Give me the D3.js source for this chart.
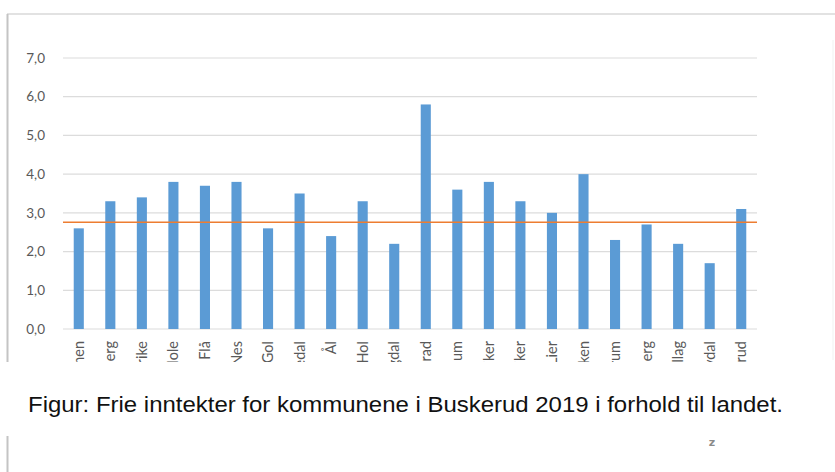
<!DOCTYPE html>
<html>
<head>
<meta charset="utf-8">
<script src="https://cdn.jsdelivr.net/npm/d3@7"></script>
<style>
  body { margin: 0; background: #fff; }
  svg { display: block; }
</style>
</head>
<body>
<script>
// Kommuner i Buskerud (kommunenummer-rekkefølge) + fylket
var kommuner = ["Drammen", "Kongsberg", "Ringerike", "Hole", "Flå", "Nes", "Gol", "Hemsedal",
                "Ål", "Hol", "Sigdal", "Krødsherad", "Modum", "Øvre Eiker", "Nedre Eiker", "Lier",
                "Røyken", "Hurum", "Flesberg", "Rollag", "Nore og Uvdal", "Buskerud"];
var verdier = [2.6, 3.3, 3.4, 3.8, 3.7, 3.8, 2.6, 3.5, 2.4, 3.3, 2.2,
               5.8, 3.6, 3.8, 3.3, 3.0, 4.0, 2.3, 2.7, 2.2, 1.7, 3.1];
var landet = 2.76;
var yTicks = [0, 1, 2, 3, 4, 5, 6, 7];
var caption = "Figur: Frie inntekter for kommunene i Buskerud 2019 i forhold til landet.";

var width = 835;
var height = 472;
var plot = {left: 63, right: 757, top: 58, bottom: 329};

var svg = d3.select("body")
            .append("svg")
            .attr("width", width)
            .attr("height", height);

// frame of the pasted chart
svg.append("line")
   .attr("x1", 7).attr("x2", width).attr("y1", 14).attr("y2", 14)
   .attr("stroke", "#e2e2e2").attr("stroke-width", 2);
svg.append("line")
   .attr("x1", 7.5).attr("x2", 7.5).attr("y1", 14).attr("y2", height)
   .attr("stroke", "#c4c4c4").attr("stroke-width", 2);
svg.append("line")
   .attr("x1", 833).attr("x2", 833).attr("y1", 40).attr("y2", 360)
   .attr("stroke", "#f1f1f1").attr("stroke-width", 1);

var x = d3.scaleBand()
          .domain(kommuner)
          .range([plot.left, plot.right])
          .paddingInner(0.68)
          .paddingOuter(0.34);

var y = d3.scaleLinear()
          .domain([0, 7])
          .range([plot.bottom, plot.top]);

// gridlines
svg.append("g")
   .selectAll("line")
   .data(yTicks)
   .enter()
   .append("line")
   .attr("x1", plot.left).attr("x2", plot.right)
   .attr("y1", d => y(d)).attr("y2", d => y(d))
   .attr("stroke", "#dcdcdc")
   .attr("stroke-width", 1.2);

// y labels
svg.append("g")
   .selectAll("text")
   .data(yTicks)
   .enter()
   .append("text")
   .attr("x", 45)
   .attr("y", d => y(d))
   .attr("dy", "0.35em")
   .attr("text-anchor", "end")
   .style("font-family", "Lato, sans-serif")
   .style("font-size", "13.5px")
   .style("fill", "#595959")
   .text(d => d3.format(".1f")(d).replace(".", ","));

// bars
svg.append("g")
   .selectAll("rect")
   .data(verdier)
   .enter()
   .append("rect")
   .attr("x", (d, i) => x(kommuner[i]))
   .attr("width", x.bandwidth())
   .attr("y", d => y(d))
   .attr("height", d => y(0) - y(d))
   .style("fill", "#5b9bd5");

// landet line
svg.append("line")
   .attr("x1", plot.left).attr("x2", plot.right)
   .attr("y1", y(landet)).attr("y2", y(landet))
   .attr("stroke", "#ed7d31")
   .attr("stroke-width", 1.5);

// category labels, cut off by the caption box
svg.append("clipPath")
   .attr("id", "klipp")
   .append("rect")
   .attr("x", 0).attr("y", 0).attr("width", width).attr("height", 362);

svg.append("g")
   .attr("clip-path", "url(#klipp)")
   .selectAll("text")
   .data(kommuner)
   .enter()
   .append("text")
   .attr("transform", d => "translate(" + (x(d) + x.bandwidth() / 2) + ",341) rotate(-90)")
   .attr("dy", "0.35em")
   .attr("text-anchor", "end")
   .style("font-family", "Lato, sans-serif")
   .style("font-size", "14.5px")
   .style("fill", "#595959")
   .text(d => d);

// caption box
svg.append("rect")
   .attr("x", 6).attr("y", 362).attr("width", width - 6).attr("height", 74)
   .style("fill", "#fff");

var cap = svg.append("text")
   .attr("x", 28)
   .attr("y", 412)
   .style("font-family", "'Liberation Sans', Arial, sans-serif")
   .style("font-size", "22px")
   .style("fill", "#111")
   .text(caption);
cap.attr("textLength", 755).attr("lengthAdjust", "spacingAndGlyphs");

svg.append("text")
   .attr("x", 712)
   .attr("y", 446)
   .attr("text-anchor", "middle")
   .style("font-family", "'DejaVu Sans', sans-serif")
   .style("font-size", "11px")
   .style("font-weight", "bold")
   .style("fill", "#8a8a8a")
   .text("z");
</script>
</body>
</html>
